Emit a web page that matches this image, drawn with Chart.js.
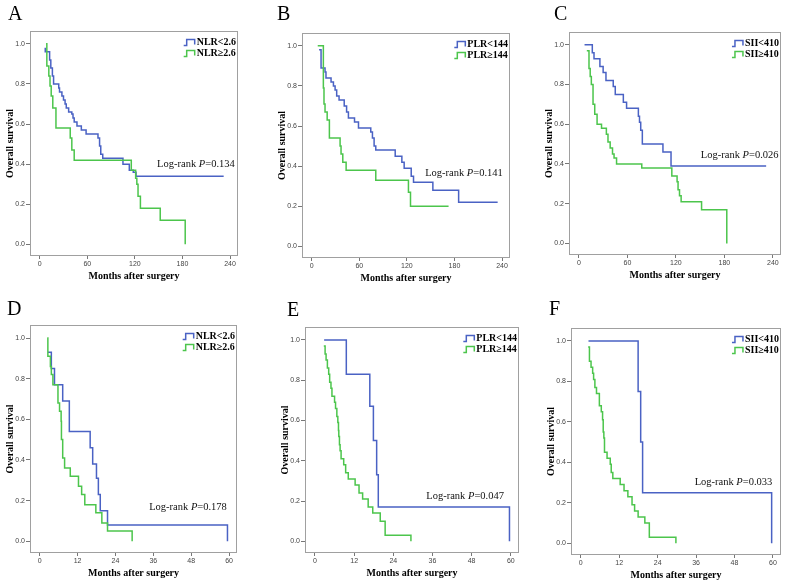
<!DOCTYPE html>
<html>
<head>
<meta charset="utf-8">
<script src="https://cdn.jsdelivr.net/npm/chart.js@4.4.1/dist/chart.umd.min.js"></script>
<style>
  body { margin: 0; background: #fff; width: 786px; height: 585px; position: relative; overflow: hidden; }
  canvas { position: absolute; }
  .tag { position: absolute; font: 20px 'Liberation Serif', 'Times New Roman', serif; line-height: 20px; color: #000; }
</style>
</head>
<body>
<script>
// tick labels
const ticks240 = [0, 60, 120, 180, 240];
const ticks60  = [0, 12, 24, 36, 48, 60];
const yTicks   = [0, 0.2, 0.4, 0.6, 0.8, 1.0];

// legend labels + log-rank p
const nlrLabels = ['NLR<2.6', 'NLR≥2.6'];
const plrLabels = ['PLR<144', 'PLR≥144'];
const siiLabels = ['SII<410', 'SII≥410'];
const pValues   = ['0.134', '0.141', '0.026', '0.178', '0.047', '0.033'];

// A - NLR, overall survival (months, 0-240)
const aBlueT  = [7, 7, 12.5, 14, 16, 17.5, 24, 25, 28, 30, 32, 33.5, 36.5, 40.5, 42, 43.5, 47, 52.5, 58.5, 73.5, 75.5, 77, 79.5, 105, 113, 118, 121.5, 232];
const aBlueS  = [0.98, 0.96, 0.92, 0.88, 0.84, 0.80, 0.78, 0.76, 0.74, 0.72, 0.70, 0.68, 0.66, 0.65, 0.63, 0.61, 0.59, 0.57, 0.55, 0.53, 0.49, 0.45, 0.43, 0.40, 0.37, 0.36, 0.34, 0.34];
const aGreenT = [8, 9, 11.5, 13, 14.5, 16.5, 20.5, 38.5, 40.5, 43.5, 115.5, 121, 122.5, 124, 127, 152, 183.5];
const aGreenS = [1.0, 0.89, 0.84, 0.79, 0.74, 0.68, 0.58, 0.53, 0.47, 0.42, 0.37, 0.33, 0.30, 0.24, 0.18, 0.12, 0.0];

// B - PLR
const bBlueT  = [9.3, 11.8, 16.8, 18, 24.4, 27.4, 29.5, 31.5, 34.5, 41, 44, 46.3, 54, 59, 74.5, 76.6, 78.7, 80.8, 105.3, 113.7, 116.6, 125.5, 128.4, 152.8, 185.3, 234.5];
const bBlueS  = [0.98, 0.89, 0.87, 0.84, 0.82, 0.80, 0.78, 0.75, 0.73, 0.70, 0.67, 0.64, 0.62, 0.59, 0.57, 0.54, 0.50, 0.48, 0.45, 0.42, 0.39, 0.35, 0.32, 0.28, 0.22, 0.22];
const bGreenT = [7.6, 14.7, 15.5, 16.8, 19.5, 22.3, 35.8, 37, 39.2, 43.4, 80.8, 122, 124.6, 172.6];
const bGreenS = [1.0, 0.79, 0.71, 0.67, 0.63, 0.54, 0.50, 0.46, 0.42, 0.38, 0.33, 0.27, 0.20, 0.20];

// C - SII
const cBlueT  = [7, 16.6, 18.7, 26, 30, 33.5, 42.5, 45, 55, 59, 73.6, 75, 76.5, 78.5, 104, 114, 231.7];
const cBlueS  = [1.0, 0.96, 0.93, 0.89, 0.86, 0.82, 0.79, 0.75, 0.71, 0.68, 0.64, 0.61, 0.57, 0.50, 0.46, 0.39, 0.39];
const cGreenT = [9.8, 12.5, 14, 15.4, 17.5, 19.6, 22.5, 28, 34, 36, 38.7, 41.6, 43.5, 46.6, 77.8, 115, 121.5, 122.7, 124.5, 126.5, 151.8, 183];
const cGreenS = [0.97, 0.88, 0.84, 0.80, 0.70, 0.65, 0.60, 0.58, 0.55, 0.51, 0.48, 0.45, 0.43, 0.40, 0.38, 0.34, 0.31, 0.27, 0.24, 0.21, 0.17, 0.0];

// D - NLR (months, 0-60)
const dBlueT  = [2.6, 3.7, 4.7, 7.3, 9.4, 16, 16.8, 18, 18.6, 19.2, 21.5, 59.5];
const dBlueS  = [0.93, 0.85, 0.77, 0.69, 0.54, 0.46, 0.38, 0.31, 0.23, 0.15, 0.08, 0.0];
const dGreenT = [2.4, 2.6, 3.4, 3.7, 4.2, 5.8, 6.3, 6.8, 6.9, 7.3, 7.9, 9.7, 12.3, 13.3, 14.3, 17.8, 19.7, 21.5, 29.3];
const dGreenS = [1.0, 0.91, 0.86, 0.82, 0.77, 0.68, 0.64, 0.59, 0.50, 0.41, 0.36, 0.32, 0.27, 0.23, 0.18, 0.14, 0.09, 0.05, 0.0];

// E - PLR
const eBlueT  = [2.8, 9.6, 16.8, 17.9, 18.9, 19.4, 59.6];
const eBlueS  = [1.0, 0.83, 0.67, 0.50, 0.33, 0.17, 0.0];
const eGreenT = [2.7, 3.1, 3.4, 3.8, 4.2, 4.5, 4.9, 5.2, 6.0, 6.3, 6.7, 7.0, 7.2, 7.3, 7.5, 7.7, 8.0, 8.8, 9.4, 10.2, 12.3, 13.5, 14.6, 16.3, 17.7, 20.0, 21.5, 29.4];
const eGreenS = [0.97, 0.93, 0.90, 0.86, 0.83, 0.79, 0.76, 0.72, 0.69, 0.66, 0.62, 0.59, 0.55, 0.52, 0.48, 0.45, 0.41, 0.38, 0.34, 0.31, 0.28, 0.24, 0.21, 0.17, 0.14, 0.10, 0.03, 0.0];

// F - SII
const fBlueT  = [2.4, 17.9, 18.7, 19.3, 59.6];
const fBlueS  = [1.0, 0.75, 0.50, 0.25, 0.0];
const fGreenT = [2.3, 2.7, 3.2, 3.7, 4.0, 4.4, 4.9, 5.8, 6.4, 6.8, 7.0, 7.2, 7.4, 8.2, 9.2, 9.5, 10.0, 12.3, 13.5, 14.7, 16.0, 16.8, 17.9, 20.0, 21.4, 29.7];
const fGreenS = [0.97, 0.90, 0.87, 0.84, 0.81, 0.77, 0.74, 0.68, 0.65, 0.61, 0.55, 0.52, 0.45, 0.42, 0.39, 0.35, 0.32, 0.29, 0.26, 0.23, 0.19, 0.16, 0.13, 0.10, 0.03, 0.0];

const SERIF = "'Liberation Serif', 'Times New Roman', serif";
const SANS  = "'Liberation Sans', Arial, sans-serif";
const BLUE  = '#4a62c4';
const GREEN = '#4cc54c';

// frame = plot box on the page [left, top, right, bottom]
const panels = [
    { id: 'A', frame: [30, 31, 238, 256],  span: 240, xt: ticks240, blue: [aBlueT, aBlueS], green: [aGreenT, aGreenS], labels: nlrLabels, p: pValues[0], pAt: [246, 0.40],  tag: [8, 3] },
    { id: 'B', frame: [302, 33, 510, 258], span: 240, xt: ticks240, blue: [bBlueT, bBlueS], green: [bGreenT, bGreenS], labels: plrLabels, p: pValues[1], pAt: [241, 0.365], tag: [277, 3] },
    { id: 'C', frame: [569, 32, 781, 255], span: 240, xt: ticks240, blue: [cBlueT, cBlueS], green: [cGreenT, cGreenS], labels: siiLabels, p: pValues[2], pAt: [247, 0.443], tag: [554, 3] },
    { id: 'D', frame: [30, 325, 237, 553], span: 60,  xt: ticks60,  blue: [dBlueT, dBlueS], green: [dGreenT, dGreenS], labels: nlrLabels, p: pValues[3], pAt: [59.3, 0.167], tag: [7, 298] },
    { id: 'E', frame: [305, 327, 519, 553], span: 60, xt: ticks60,  blue: [eBlueT, eBlueS], green: [eGreenT, eGreenS], labels: plrLabels, p: pValues[4], pAt: [57.9, 0.222], tag: [287, 299] },
    { id: 'F', frame: [571, 328, 781, 555], span: 60, xt: ticks60,  blue: [fBlueT, fBlueS], green: [fGreenT, fGreenS], labels: siiLabels, p: pValues[5], pAt: [59.8, 0.303], tag: [549, 298] }
];

const toPts = ([t, s]) => t.map((v, i) => ({ x: v, y: s[i] }));

// grey box round the plot area
const framePlugin = {
    id: 'frame',
    beforeDatasetsDraw(chart) {
        const { ctx, chartArea: a } = chart;
        ctx.save();
        ctx.strokeStyle = '#a0a0a0';
        ctx.lineWidth = 1;
        ctx.strokeRect(a.left + 0.5, a.top + 0.5, a.right - a.left - 1, a.bottom - a.top - 1);
        ctx.restore();
    }
};

// legend in the top-right corner + log-rank text
const notePlugin = (p) => ({
    id: 'note' + p.id,
    afterDatasetsDraw(chart) {
        const { ctx, chartArea: a, scales: { x, y } } = chart;
        ctx.save();
        ctx.font = `bold 10px ${SERIF}`;
        ctx.textBaseline = 'middle';
        const tw = Math.max(...p.labels.map(t => ctx.measureText(t).width));
        const tx = a.right - 2 - tw;
        [BLUE, GREEN].forEach((c, i) => {
            const cy = a.top + 11.5 + i * 11;
            const x0 = tx - 13;
            ctx.strokeStyle = c;
            ctx.lineWidth = 1.5;
            ctx.beginPath();
            ctx.moveTo(x0, cy + 3);
            ctx.lineTo(x0 + 3, cy + 3);
            ctx.lineTo(x0 + 3, cy - 3);
            ctx.lineTo(x0 + 11, cy - 3);
            ctx.lineTo(x0 + 11, cy + 2);
            ctx.stroke();
            ctx.fillStyle = '#000';
            ctx.fillText(p.labels[i], tx, cy);
        });

        const parts = [['Log-rank ', ''], ['P', 'italic '], ['=' + p.p, '']];
        const widths = parts.map(([t, st]) => { ctx.font = `${st}10.5px ${SERIF}`; return ctx.measureText(t).width; });
        let px = x.getPixelForValue(p.pAt[0]) - widths.reduce((s, w) => s + w, 0);
        const py = y.getPixelForValue(p.pAt[1]);
        ctx.fillStyle = '#111';
        parts.forEach(([t, st], i) => {
            ctx.font = `${st}10.5px ${SERIF}`;
            ctx.fillText(t, px, py);
            px += widths[i];
        });
        ctx.restore();
    }
});

panels.forEach(p => {
    const [fL, fT, fR, fB] = p.frame;
    const w = fR - fL + 34, h = fB - fT + 42;
    const cv = document.createElement('canvas');
    cv.width = w; cv.height = h;
    cv.style.left = (fL - 30) + 'px';
    cv.style.top = (fT - 12) + 'px';
    cv.style.width = w + 'px';
    cv.style.height = h + 'px';
    document.body.appendChild(cv);

    const tag = document.createElement('div');
    tag.className = 'tag';
    tag.textContent = p.id;
    tag.style.left = p.tag[0] + 'px';
    tag.style.top = p.tag[1] + 'px';
    document.body.appendChild(tag);

    const line = (label, pts, color) => ({
        label, data: toPts(pts), borderColor: color, backgroundColor: color,
        borderWidth: 1.5, stepped: true, pointRadius: 0, fill: false, tension: 0
    });

    new Chart(cv, {
        type: 'line',
        data: { datasets: [line(p.labels[1], p.green, GREEN), line(p.labels[0], p.blue, BLUE)] },
        options: {
            responsive: false, animation: false, events: [],
            layout: { padding: { top: 12, right: 4, left: 0, bottom: 0 } },
            plugins: { legend: { display: false }, tooltip: { enabled: false } },
            scales: {
                x: {
                    type: 'linear', min: -0.051 * p.span, max: 1.042 * p.span,
                    afterBuildTicks: ax => { ax.ticks = p.xt.map(v => ({ value: v })); },
                    afterFit: s => { s.height = 30; },
                    grid: { drawOnChartArea: false, tickLength: 3, color: '#777' },
                    border: { display: false },
                    ticks: { font: { family: SANS, size: 7 }, color: '#444', padding: 1, maxRotation: 0, autoSkip: false, callback: v => String(v) },
                    title: { display: true, text: 'Months after surgery', color: '#000', font: { family: SERIF, size: 10, weight: 'bold' }, padding: { top: 0, bottom: 3.5 } }
                },
                y: {
                    type: 'linear', min: -0.058, max: 1.064,
                    afterBuildTicks: ax => { ax.ticks = yTicks.map(v => ({ value: v })); },
                    afterFit: s => { s.width = 30; },
                    grid: { drawOnChartArea: false, tickLength: 4, color: '#777' },
                    border: { display: false },
                    ticks: { font: { family: SANS, size: 7 }, color: '#444', padding: 1, autoSkip: false, callback: v => v.toFixed(1) },
                    title: { display: true, text: 'Overall survival', color: '#000', font: { family: SERIF, size: 10, weight: 'bold' }, padding: { top: 4.5, bottom: 0 } }
                }
            }
        },
        plugins: [framePlugin, notePlugin(p)]
    });
});
</script>
</body>
</html>
